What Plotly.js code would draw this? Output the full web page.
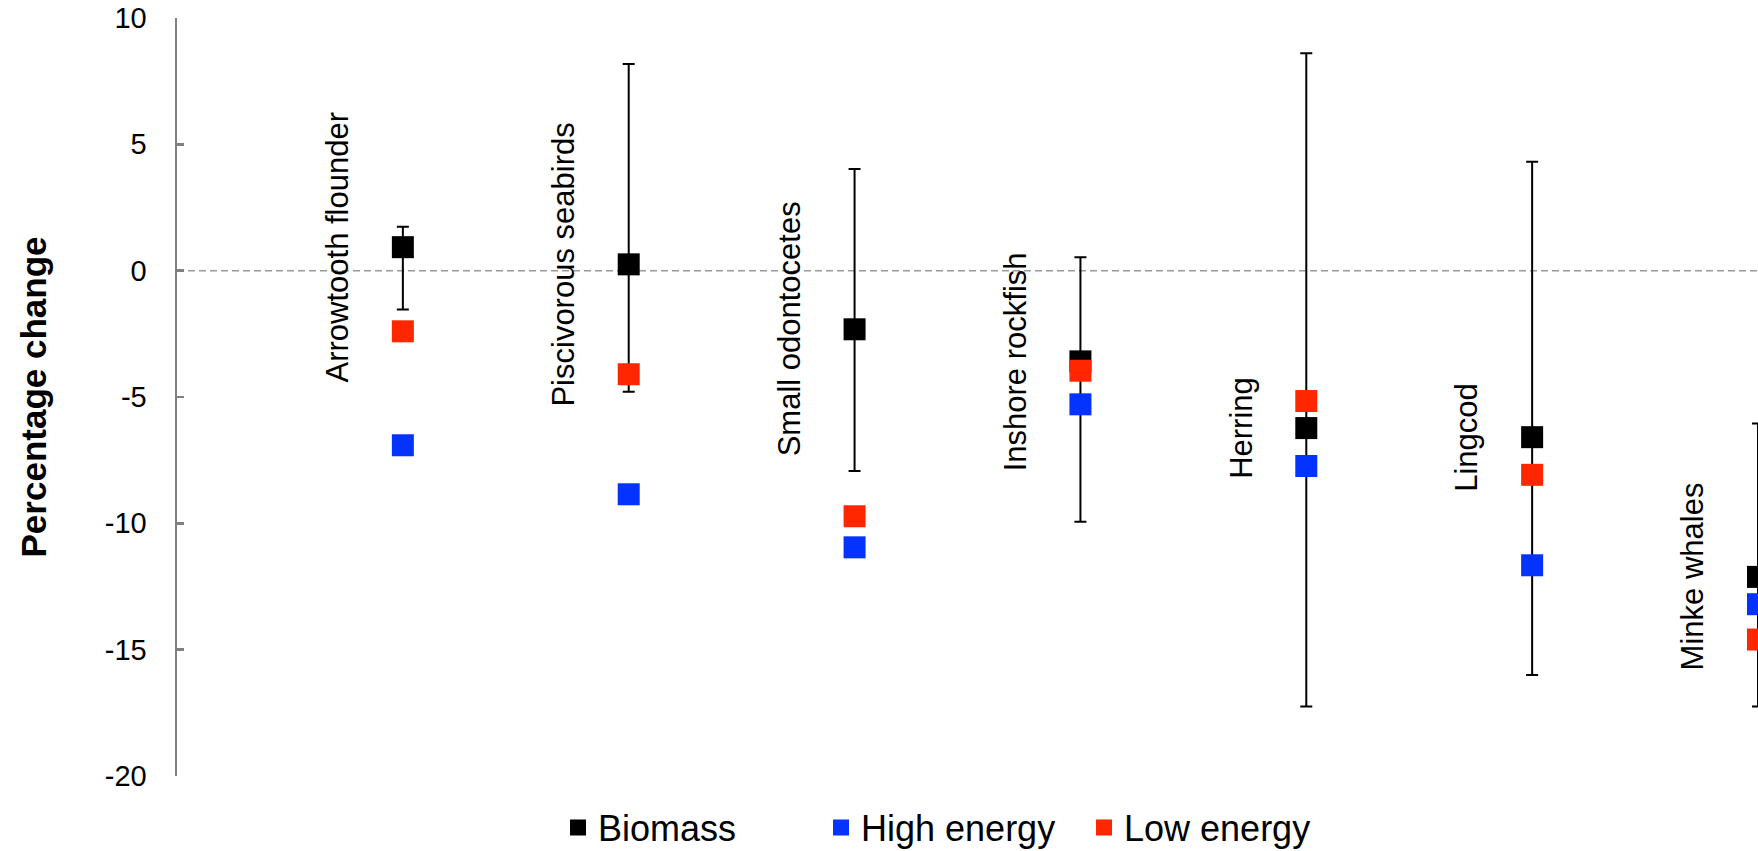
<!DOCTYPE html>
<html>
<head>
<meta charset="utf-8">
<script src="https://cdn.plot.ly/plotly-3.0.1.min.js"></script>
<style>
  html, body { margin: 0; padding: 0; background: #fff; }
  #chart { width: 1758px; height: 851px; }
</style>
</head>
<body>
<div id="chart"></div>
<script>
// ---- Data ----
const categories = ['Arrowtooth flounder', 'Piscivorous seabirds', 'Small odontocetes',
                    'Inshore rockfish', 'Herring', 'Lingcod', 'Minke whales'];
const positions = [1, 2, 3, 4, 5, 6, 7];
const biomass      = [0.93, 0.25, -2.32, -3.59, -6.23, -6.59, -12.12];
const biomassUpper = [1.74, 8.18, 4.02, 0.53, 8.6, 4.31, -6.05];
const biomassLower = [-1.54, -4.79, -7.93, -9.94, -17.25, -16.0, -17.25];
const highEnergy   = [-6.91, -8.85, -10.95, -5.29, -7.73, -11.66, -13.20];
const lowEnergy    = [-2.40, -4.10, -9.72, -3.96, -5.16, -8.08, -14.60];
const yTicks = [-20, -15, -10, -5, 0, 5, 10];

const FONT = 'Liberation Sans, Arial, Helvetica, sans-serif';
const errPlus  = biomass.map((v, i) => biomassUpper[i] - v);
const errMinus = biomass.map((v, i) => v - biomassLower[i]);

const traces = [
  {
    type: 'scatter', mode: 'markers', name: 'Biomass',
    x: positions, y: biomass,
    marker: { symbol: 'square', size: 22, color: '#000000' },
    error_y: { type: 'data', symmetric: false, array: errPlus, arrayminus: errMinus,
               color: '#000000', thickness: 2, width: 6 }
  },
  {
    type: 'scatter', mode: 'markers', name: 'High energy',
    x: positions, y: highEnergy,
    marker: { symbol: 'square', size: 22, color: '#0433FF' }
  },
  {
    type: 'scatter', mode: 'markers', name: 'Low energy',
    x: positions, y: lowEnergy,
    marker: { symbol: 'square', size: 22, color: '#FF2600' }
  }
];

const annotations = categories.map((c, i) => ({
  text: c, x: positions[i] - 0.29, y: biomass[i], xref: 'x', yref: 'y',
  showarrow: false, textangle: -90, xanchor: 'center', yanchor: 'middle',
  font: { family: FONT, size: 31, color: '#000' }
}));

const layout = {
  width: 1758, height: 851,
  paper_bgcolor: '#ffffff', plot_bgcolor: '#ffffff',
  margin: { l: 177, r: 0, t: 18, b: 75, pad: 0, autoexpand: false },
  font: { family: FONT, color: '#000' },
  showlegend: true,
  legend: {
    orientation: 'h', x: 0.241, xanchor: 'left', y: -0.068, yanchor: 'middle',
    entrywidth: 218, entrywidthmode: 'pixels',
    font: { family: FONT, size: 36, color: '#000' }, bgcolor: 'rgba(0,0,0,0)'
  },
  xaxis: {
    range: [0, 7], visible: false, showgrid: false, zeroline: false
  },
  yaxis: {
    range: [-20, 10], tickvals: yTicks, ticktext: yTicks.map(String),
    showline: true, linecolor: '#808080', linewidth: 2.5,
    ticks: 'inside', ticklen: 7, tickwidth: 2.5, tickcolor: '#808080',
    showgrid: false, zeroline: false, ticklabelstandoff: 22,
    tickfont: { family: FONT, size: 29, color: '#000' },
    title: { text: '<b>Percentage change</b>', standoff: 48,
             font: { family: FONT, size: 35, color: '#000' } }
  },
  shapes: [{
    type: 'line', xref: 'paper', yref: 'y', x0: 0, x1: 1, y0: 0, y1: 0,
    layer: 'below', line: { color: '#9a9a9a', width: 1.5, dash: '7px,4px' }
  }],
  annotations: annotations
};

Plotly.newPlot('chart', traces, layout, { displayModeBar: false, staticPlot: true });
</script>
</body>
</html>
